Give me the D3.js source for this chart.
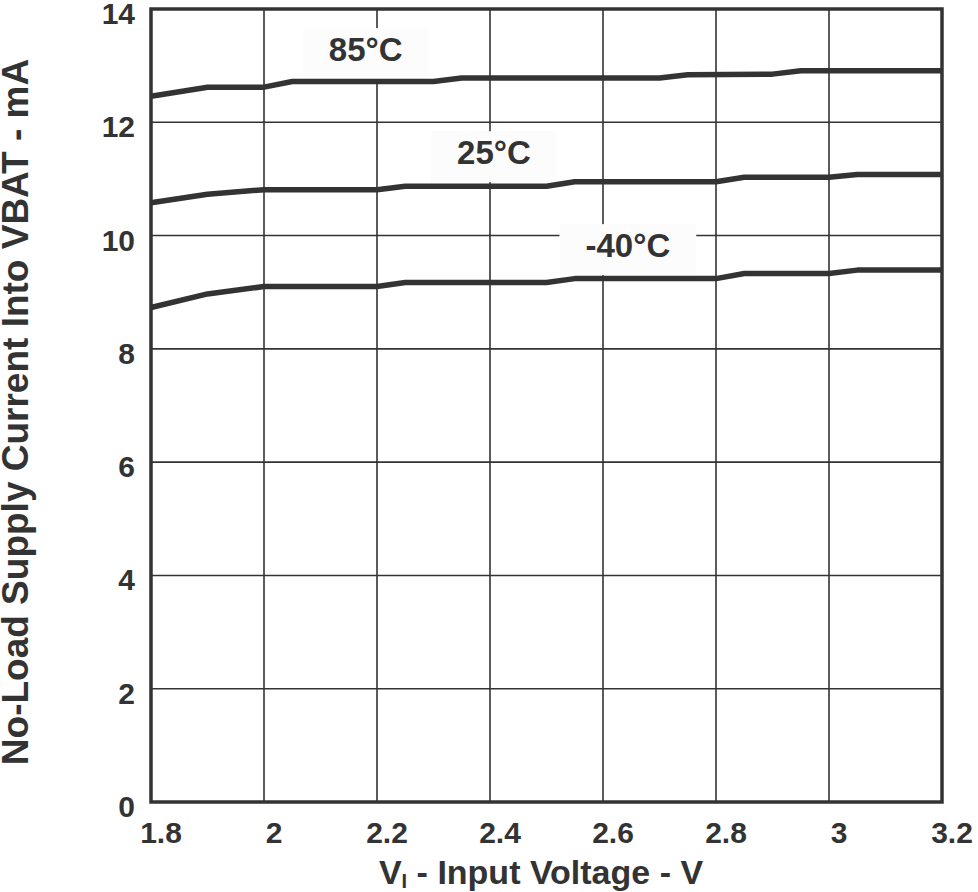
<!DOCTYPE html>
<html>
<head>
<meta charset="utf-8">
<script src="https://cdn.jsdelivr.net/npm/d3@7"></script>
<style>
  html, body { margin: 0; padding: 0; background: #fff; }
  svg { display: block; }
  text { font-family: "Liberation Sans", Arial, sans-serif; font-weight: bold; fill: #333; }
</style>
</head>
<body>
<svg id="chart" width="978" height="892"></svg>
<script>
// ---- data ----
const xTicks = [1.8, 2, 2.2, 2.4, 2.6, 2.8, 3, 3.2];
const xTickLabels = ["1.8", "2", "2.2", "2.4", "2.6", "2.8", "3", "3.2"];
const yTicks = [0, 2, 4, 6, 8, 10, 12, 14];
const yTickLabels = ["0", "2", "4", "6", "8", "10", "12", "14"];

const vin85 = [1.8, 1.9, 2.0, 2.05, 2.3, 2.35, 2.7, 2.75, 2.9, 2.95, 3.2];
const i85   = [12.46, 12.62, 12.62, 12.72, 12.72, 12.78, 12.78, 12.84, 12.85, 12.91, 12.91];

const vin25 = [1.8, 1.9, 2.0, 2.2, 2.25, 2.5, 2.55, 2.8, 2.85, 3.0, 3.05, 3.2];
const i25   = [10.58, 10.73, 10.81, 10.81, 10.87, 10.87, 10.95, 10.95, 11.03, 11.03, 11.08, 11.08];

const vinM40 = [1.8, 1.9, 2.0, 2.2, 2.25, 2.5, 2.55, 2.8, 2.85, 3.0, 3.05, 3.2];
const iM40   = [8.73, 8.97, 9.10, 9.10, 9.17, 9.17, 9.24, 9.24, 9.33, 9.33, 9.39, 9.39];

const seriesNames = ["85°C", "25°C", "-40°C"];
const labelX = [2.18, 2.407, 2.644];
const labelY = [13.08, 11.26, 9.62];

const xTitle = "V";
const xTitleSub = "I";
const xTitleRest = " - Input Voltage - V";
const yTitle = "No-Load Supply Current Into VBAT - mA";

// ---- layout ----
const svg = d3.select("#chart");
const L = 151, R = 942, T = 9, B = 802;
const x = d3.scaleLinear().domain([1.8, 3.2]).range([L, R]);
const y = d3.scaleLinear().domain([0, 14]).range([B, T]);
const ink = "#333";

const series = [
  vin85.map((v, i) => [v, i85[i]]),
  vin25.map((v, i) => [v, i25[i]]),
  vinM40.map((v, i) => [v, iM40[i]])
];

// grid
const grid = svg.append("g");
grid.selectAll("line.v").data(xTicks.slice(1, -1)).join("line")
  .attr("x1", d => x(d)).attr("x2", d => x(d))
  .attr("y1", T).attr("y2", B)
  .attr("stroke", ink).attr("stroke-width", 1.6);
grid.selectAll("line.h").data(yTicks.slice(1, -1)).join("line")
  .attr("x1", L).attr("x2", R)
  .attr("y1", d => y(d)).attr("y2", d => y(d))
  .attr("stroke", ink).attr("stroke-width", 1.6);

// label boxes (mask the grid)
const labG = svg.append("g");
const labTexts = seriesNames.map((n, i) => {
  return labG.append("text")
    .attr("x", x(labelX[i])).attr("y", y(labelY[i]))
    .attr("text-anchor", "middle")
    .attr("font-size", 33)
    .text(n);
});
labTexts.forEach(t => {
  const bb = t.node().getBBox();
  labG.insert("rect", "text")
    .attr("x", bb.x - 26).attr("y", bb.y - 3)
    .attr("width", bb.width + 52).attr("height", bb.height + 14)
    .attr("fill", "#fcfcfc");
});

// frame
svg.append("rect")
  .attr("x", L).attr("y", T).attr("width", R - L).attr("height", B - T)
  .attr("fill", "none").attr("stroke", ink).attr("stroke-width", 3.5);

// curves
const line = d3.line().x(d => x(d[0])).y(d => y(d[1]));
svg.append("g").selectAll("path").data(series).join("path")
  .attr("d", line)
  .attr("fill", "none").attr("stroke", ink)
  .attr("stroke-width", 5.5).attr("stroke-linejoin", "round");

// x axis labels
svg.append("g").selectAll("text").data(xTicks).join("text")
  .attr("x", d => x(d) + 10).attr("y", 843)
  .attr("text-anchor", "middle").attr("font-size", 30)
  .text((d, i) => xTickLabels[i]);

// y axis labels
svg.append("g").selectAll("text").data(yTicks).join("text")
  .attr("x", 135).attr("y", d => y(d) + 15)
  .attr("text-anchor", "end").attr("font-size", 30)
  .text((d, i) => yTickLabels[i]);

// x title
const xt = svg.append("text")
  .attr("x", 541).attr("y", 884)
  .attr("text-anchor", "middle").attr("font-size", 34);
xt.append("tspan").text(xTitle);
xt.append("tspan").attr("font-size", 20).attr("dy", 4).text(xTitleSub);
xt.append("tspan").attr("dy", -4).text(xTitleRest);

// y title
svg.append("text")
  .attr("transform", "translate(28,412) rotate(-90)")
  .attr("text-anchor", "middle").attr("font-size", 37)
  .text(yTitle);
</script>
</body>
</html>
